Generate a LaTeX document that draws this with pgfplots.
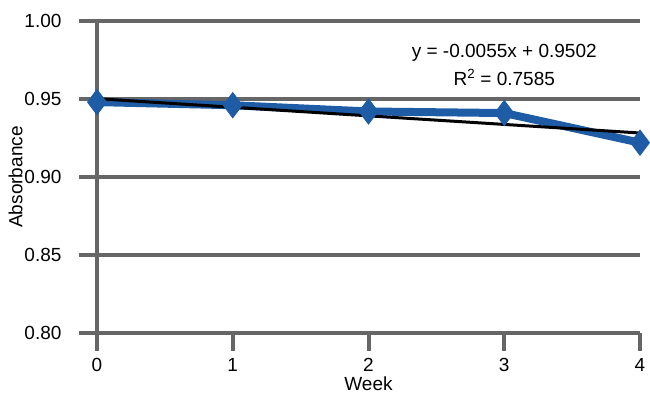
\documentclass[border=0pt]{standalone}
\usepackage{fontspec}
\setmainfont{Liberation Sans}
\usepackage{pgfplots}
\pgfplotsset{compat=1.18}
\definecolor{gridgray}{RGB}{102,102,102}
\definecolor{serblue}{RGB}{31,92,166}
\begin{document}
\begin{tikzpicture}
\begin{axis}[
  at={(97bp,63bp)}, anchor=south west,
  scale only axis, width=543bp, height=312bp,
  xmin=0, xmax=4, ymin=0.8, ymax=1.0,
  xtick={0,1,2,3,4},
  ytick={0.80,0.85,0.90,0.95,1.00},
  /pgf/number format/assume math mode=true,
  axis x line*=bottom, axis y line*=left,
  axis line style={-, gridgray, line width=4bp},
  ymajorgrids, major grid style={gridgray, line width=4bp},
  tick align=outside, major tick length=18bp,
  major tick style={gridgray, line width=4bp},
  ticklabel style={font=\fontsize{19bp}{22bp}\selectfont, text=black},
  yticklabel style={xshift=-14bp, /pgf/number format/.cd, fixed, fixed zerofill, precision=2},
  xticklabel style={yshift=-4bp},
  label style={font=\fontsize{19bp}{22bp}\selectfont},
  xlabel={Week}, ylabel={Absorbance},
  xlabel style={yshift=0bp, inner sep=1bp},
  ylabel style={yshift=-5bp},
  clip=false,
]
\addplot[serblue, line width=8bp, mark=diamond*, mark size=12.5bp,
  mark options={fill=serblue, draw=serblue, line width=1bp}]
  coordinates {(0,0.948) (1,0.946) (2,0.942) (3,0.941) (4,0.922)};
\addplot[black, line width=3bp] coordinates {(0,0.9502) (4,0.9282)};
\node[align=center, font=\fontsize{19bp}{28bp}\selectfont, anchor=center]
  at (axis cs:3.0,0.9715) {y = -0.0055x + 0.9502\\R\textsuperscript{2} = 0.7585};
\end{axis}
\pgfresetboundingbox
\path (0,0) rectangle (650bp,396bp);
\end{tikzpicture}
\end{document}
